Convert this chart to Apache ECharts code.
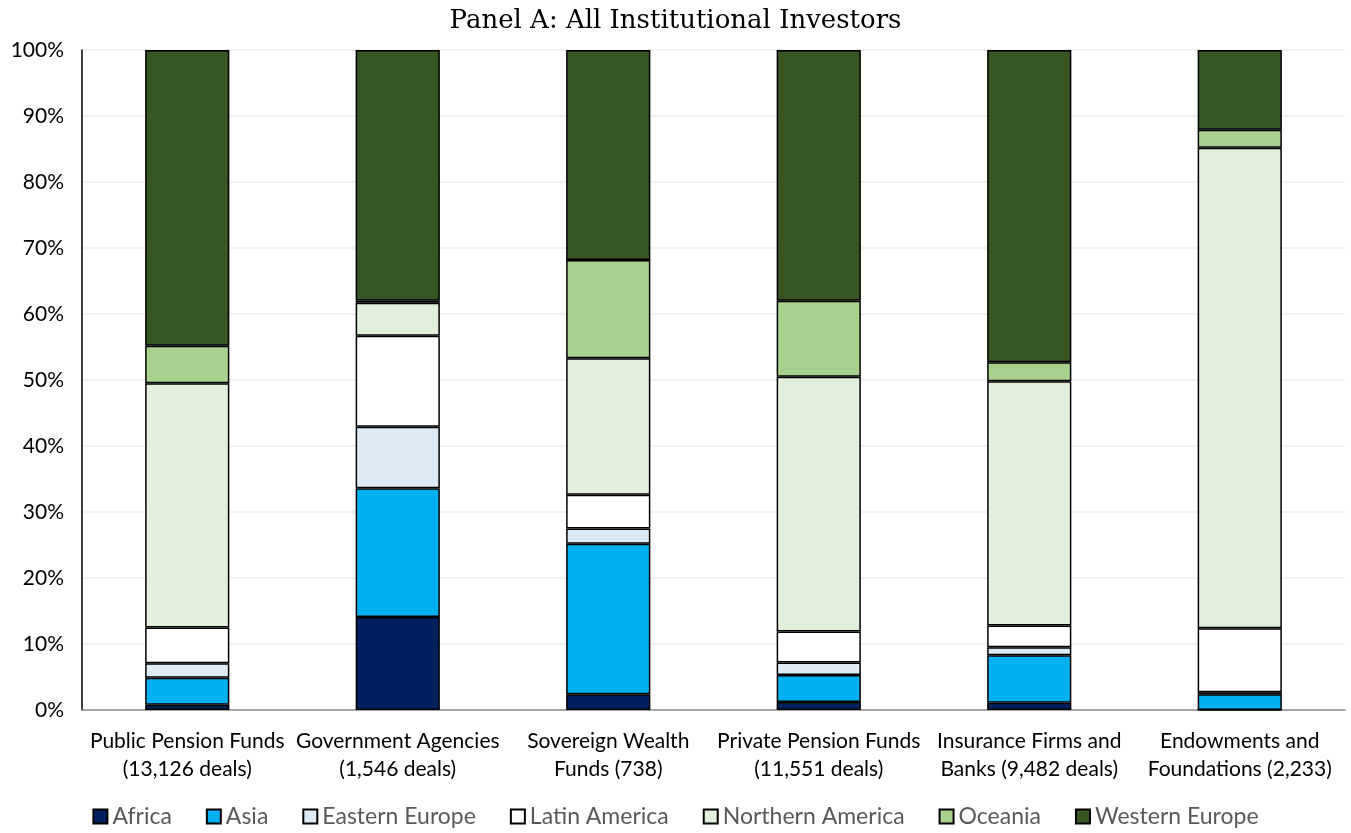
<!DOCTYPE html>
<html><head><meta charset="utf-8">
<script src="https://cdn.jsdelivr.net/npm/echarts@6/dist/echarts.min.js"></script>
<style>html,body{margin:0;padding:0;background:#fff}#c{width:1351px;height:833px}</style>
</head><body><div id="c"></div>
<script>
const categories = ["Public Pension Funds\n(13,126 deals)","Government Agencies\n(1,546 deals)","Sovereign Wealth\nFunds (738)","Private Pension Funds\n(11,551 deals)","Insurance Firms and\nBanks (9,482 deals)","Endowments and\nFoundations (2,233)"];
const africa   = [0.8, 14.1, 2.4, 1.2, 1.1, 0.0];
const asia     = [4.1, 19.5, 22.8, 4.1, 7.2, 2.4];
const eastEu   = [2.2, 9.3, 2.3, 1.9, 1.2, 0.3];
const latAm    = [5.4, 13.8, 5.1, 4.7, 3.3, 9.7];
const northAm  = [37.0, 5.0, 20.7, 38.6, 37.0, 72.8];
const oceania  = [5.7, 0.3, 14.9, 11.5, 2.9, 2.7];
const westEu   = [44.8, 38.0, 31.8, 38.0, 47.3, 12.1];
const seriesDefs = [
  ["Africa", africa, "#002060"],
  ["Asia", asia, "#00B0F0"],
  ["Eastern Europe", eastEu, "#DDEBF7"],
  ["Latin America", latAm, "#FFFFFF"],
  ["Northern America", northAm, "#E2EFDA"],
  ["Oceania", oceania, "#A9D18E"],
  ["Western Europe", westEu, "#375623"]
];
const chart = echarts.init(document.getElementById('c'));
chart.setOption({
  animation:false,
  title:{text:"Panel A: All Institutional Investors",left:'center',top:3,textStyle:{fontFamily:"DejaVu Serif",fontWeight:'normal',fontSize:26,color:'#000'}},
  grid:{left:82,right:6,top:50,bottom:123},
  legend:{bottom:0,left:'center',itemWidth:14,itemHeight:14,itemGap:34,itemTextGap:6,icon:'rect',
    textStyle:{fontFamily:"Lato",fontSize:23,color:'#595959'},
    data:seriesDefs.map(s=>s[0])},
  xAxis:{type:'category',data:categories,axisTick:{show:false},
    axisLine:{lineStyle:{color:'#8c8c8c',width:1.5}},
    axisLabel:{fontFamily:"Lato",fontSize:21,color:'#000',lineHeight:28,margin:17,interval:0}},
  yAxis:{type:'value',min:0,max:100,interval:10,
    axisLine:{show:true,lineStyle:{color:'#000',width:1.5}},
    axisLabel:{formatter:'{value}%',fontFamily:"Lato",fontSize:21,color:'#000',margin:18},
    splitLine:{lineStyle:{color:'#ececec',width:1.5}}},
  series:seriesDefs.map(s=>({name:s[0],type:'bar',stack:'t',data:s[1],barWidth:'40%',
    itemStyle:{color:s[2],borderColor:'#000',borderWidth:1.5}}))
});
</script></body></html>
